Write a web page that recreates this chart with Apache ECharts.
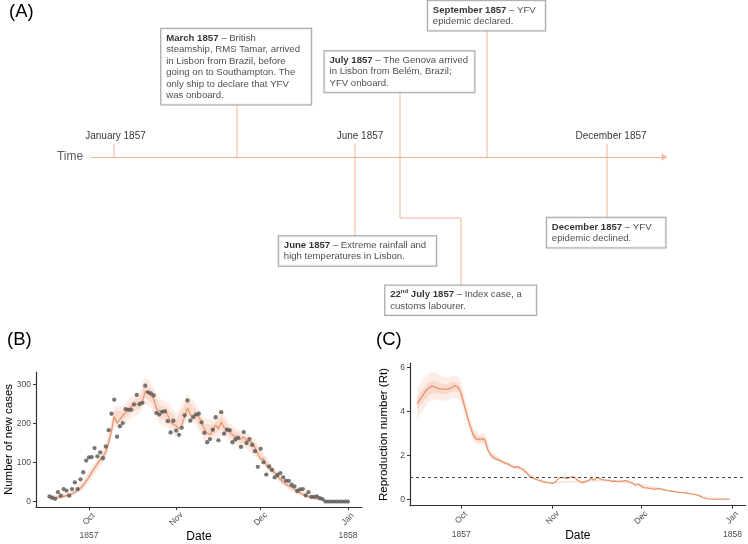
<!DOCTYPE html>
<html><head><meta charset="utf-8">
<script src="https://cdn.jsdelivr.net/npm/echarts@6/dist/echarts.min.js"></script>
<style>html,body{margin:0;padding:0;background:#fff}#c{width:748px;height:544px}</style>
</head><body><div id="c"></div>
<script>
// ---------- Panel A: timeline events ----------
const monthLabels = ['January 1857', 'June 1857', 'December 1857'];
const eventDates = ['{d|March 1857}', '{d|July 1857}', '{d|September 1857}', '{d|June 1857}', '{d|22}{sup|nd}{d| July 1857}', '{d|December 1857}'];
const eventTexts = [
  ' – British\nsteamship, RMS Tamar, arrived\nin Lisbon from Brazil, before\ngoing on to Southampton. The\nonly ship to declare that YFV\nwas onboard.',
  ' – The Genova arrived\nin Lisbon from Belém, Brazil;\nYFV onboard.',
  ' – YFV\nepidemic declared.',
  ' – Extreme rainfall and\nhigh temperatures in Lisbon.',
  ' – Index case, a\ncustoms labourer.',
  ' – YFV\nepidemic declined.'
];

// ---------- Panel B: daily cases (day 0 = 1 Oct 1857) ----------
const caseStartDay = -14;
const caseCounts = [13,10,7,24,15,32,28,15,32,49,32,57,75,105,
  113,114,137,116,126,111,141,183,225,261,
  166,193,201,237,235,235,249,273,250,253,
  297,280,277,272,227,223,230,231,206,177,
  207,182,171,189,221,259,207,216,223,225,
  203,176,152,160,184,216,157,229,174,184,
  183,152,159,163,140,178,150,160,145,129,
  89,135,101,69,90,81,62,68,73,62,
  53,53,43,39,27,31,32,16,24,12,
  12,13,9,6,0,0,0,0,0,0,
  0,0,0];
const fitStartDay = -14;
const fitCases = [8,9,10,11,12,13,15,17,20,24,28,34,42,52,
  62,75,86,97,107,116,127,150,180,218,
  200,210,220,228,236,243,248,250,245,255,
  283,280,272,263,238,232,230,235,222,204,
  198,194,186,196,217,240,222,219,221,218,
  203,185,175,171,182,196,186,204,190,184,
  178,171,167,163,160,166,156,154,152,138,
  121,108,110,92,84,80,73,65,57,50,
  44,40,37,32,27,22,18,15,12,10,
  9,7,6];
const ribB_days = [-14,-10,-6,-2,2,6,9,12,15,18,20,22,25,28,31,35,38,41,44,47,50,53,56,59,62,65,68,71,74,77,80,83];
const ribB_outLo = [2,5,12,30,70,110,190,195,215,225,250,240,200,190,165,210,195,155,155,170,155,140,135,115,95,68,45,30,18,9,4,2];
const ribB_outHi = [15,20,28,55,100,145,245,245,270,280,322,305,265,255,225,275,250,215,210,235,200,185,175,160,125,95,70,50,35,22,14,10];
const ribB_inLo = [5,8,16,36,78,118,203,207,229,237,266,256,216,205,180,226,208,170,168,186,166,152,145,127,103,75,51,35,22,12,6,4];
const ribB_inHi = [11,16,24,48,93,137,232,233,256,268,305,289,249,240,210,259,236,200,197,220,190,175,165,148,118,88,64,45,31,18,11,8];

// ---------- Panel C: reproduction number ----------
const rtStartDay = -15;
const rtValues = [4.37,4.55,4.75,4.95,5.08,5.16,5.12,5.06,5.03,5.02,5.01,5.04,5.12,5.18,5.1,
  4.8,4.3,3.8,3.35,2.95,2.76,2.73,2.76,2.72,2.25,
  2.02,1.88,1.82,1.78,1.7,1.64,1.6,1.52,1.46,1.49,
  1.43,1.36,1.22,1.08,0.98,0.93,0.88,0.84,0.78,0.76,
  0.75,0.73,0.8,0.97,1.0,0.98,0.95,1.0,1.03,0.93,
  0.82,0.76,0.8,0.85,0.95,0.88,1.0,0.93,0.9,0.88,
  0.86,0.82,0.83,0.82,0.82,0.84,0.85,0.8,0.75,0.63,
  0.7,0.6,0.52,0.52,0.5,0.47,0.46,0.5,0.46,0.43,
  0.4,0.38,0.36,0.34,0.32,0.31,0.29,0.27,0.25,0.23,
  0.2,0.15,0.09,0.04,0.02,0.01,0.01,0.01,0.01,0.01,
  0.01,0.01];
const ribC_days = [-15,-13,-11,-9,-7,-5,-3,-1,0,2,4,6,8,10,13,17,21,25,30,40,50,60,70,80,91];
const ribC_outLo = [3.62,4.05,4.45,4.55,4.5,4.5,4.62,4.6,4.35,3.45,2.62,2.48,2.45,1.88,1.68,1.43,1.3,0.88,0.72,0.78,0.82,0.65,0.38,0.18,0.0];
const ribC_outHi = [5.05,5.45,5.75,5.8,5.62,5.55,5.62,5.6,5.3,4.2,3.25,3.0,3.02,2.18,1.9,1.6,1.44,0.98,0.8,0.86,0.9,0.74,0.43,0.22,0.02];
const ribC_inLo = [4.1,4.4,4.75,4.85,4.8,4.78,4.9,4.9,4.6,3.65,2.78,2.6,2.58,1.95,1.74,1.48,1.34,0.91,0.74,0.8,0.84,0.67,0.39,0.19,0.005];
const ribC_inHi = [4.65,5.05,5.35,5.4,5.28,5.25,5.35,5.32,5.02,3.95,3.1,2.86,2.88,2.1,1.84,1.55,1.4,0.95,0.78,0.84,0.88,0.72,0.42,0.21,0.015];
const rtThreshold = 1;

// ---------- Axis ticks ----------
const monthTicks = [0, 31, 61, 92];
const monthNames = ['Oct', 'Nov', 'Dec', 'Jan'];
const yearTicks = [0, 92];
const yearNames = ['1857', '1858'];
const caseTicks = [0, 100, 200, 300];
const rtTicks = [0, 2, 4, 6];

// ---------- Layout (panel A schematic frame, not data) ----------
const L = {
  axisY: 157, arrowFrom: 91, arrowTo: 667,
  monthLabelPos: [[115.5,136],[360,136],[611,136]],
  connectors: [
    [[114,144],[114,157]],
    [[355,144],[355,237]],
    [[607,144],[607,218]],
    [[237,105],[237,157]],
    [[400,92],[400,218],[461,218],[461,286]],
    [[487,30],[487,157]]
  ],
  boxes: [ // left, top, width
    [161.7, 29.3, 150], [325, 51.7, 150], [428.3, 1.3, 117.4],
    [279.3, 236.7, 157.4], [385.7, 286, 151], [547.3, 218.3, 118.7]
  ],
  timeLabel: [70, 157]
};

const ORANGE = '#E8936B';
const TL = '#F2B396';
const FONT = 'Liberation Sans, Arial, Helvetica, sans-serif';

const chart = echarts.init(document.getElementById('c'), null, {renderer: 'canvas'});

function seq(start, n) { const a = []; for (let i = 0; i < n; i++) a.push(start + i); return a; }
const caseDays = seq(caseStartDay, caseCounts.length);
const fitDays = seq(fitStartDay, fitCases.length);
const rtDays = seq(rtStartDay, rtValues.length);

function ribbon(xi, yi, days, lo, hi, color, z) {
  return {
    type: 'custom', xAxisIndex: xi, yAxisIndex: yi, z: z, silent: true,
    data: days.map((d, i) => [d, lo[i], hi[i]]),
    encode: {x: 0, y: [1, 2]},
    renderItem: function (params, api) {
      if (params.dataIndex !== 0) return null;
      const pts = [];
      for (let i = 0; i < days.length; i++) pts.push(api.coord([days[i], hi[i]]));
      for (let i = days.length - 1; i >= 0; i--) pts.push(api.coord([days[i], lo[i]]));
      return {type: 'polygon', shape: {points: pts}, style: {fill: color}};
    }
  };
}

const axisCol = '#333';
const tickLabelStyle = {color: '#4d4d4d', fontSize: 8.5, fontFamily: FONT};

function mainX(grid, min, max) {
  return {
    type: 'value', gridIndex: grid, min: min, max: max,
    axisLine: {show: true, onZero: false, lineStyle: {color: axisCol, width: 1.2}},
    axisTick: {show: true, length: 3, lineStyle: {color: axisCol}, customValues: monthTicks},
    splitLine: {show: false},
    axisLabel: Object.assign({customValues: monthTicks, rotate: 45, align: 'center', verticalAlign: 'middle', margin: 12,
      formatter: v => monthNames[monthTicks.indexOf(v)]}, tickLabelStyle)
  };
}
function yearX(grid, min, max) {
  return {
    type: 'value', gridIndex: grid, min: min, max: max, position: 'bottom',
    axisLine: {show: false, onZero: false}, axisTick: {show: false}, splitLine: {show: false},
    axisLabel: Object.assign({customValues: yearTicks, margin: 24, formatter: v => yearNames[yearTicks.indexOf(v)]}, tickLabelStyle),
    name: 'Date', nameLocation: 'middle', nameGap: 24, nameMoveOverlap: false,
    nameTextStyle: {fontSize: 12, color: '#000', fontFamily: FONT, verticalAlign: 'top'}
  };
}
function mainY(grid, min, max, ticks, name, gap) {
  return {
    type: 'value', gridIndex: grid, min: min, max: max,
    axisLine: {show: true, onZero: false, lineStyle: {color: axisCol, width: 1.2}},
    axisTick: {show: true, length: 3, lineStyle: {color: axisCol}, customValues: ticks},
    splitLine: {show: false},
    axisLabel: Object.assign({customValues: ticks, margin: 5}, tickLabelStyle),
    name: name, nameLocation: 'middle', nameGap: gap, nameMoveOverlap: false,
    nameTextStyle: {fontSize: 11.5, color: '#000', fontFamily: FONT}
  };
}

const richStyles = {
  d: {fontSize: 9.6, lineHeight: 11.5, color: '#000', fontWeight: 'bold', fontFamily: FONT},
  sup: {fontSize: 6, lineHeight: 11.5, color: '#000', fontWeight: 'bold', fontFamily: FONT, verticalAlign: 'top', padding: [0, 0, 4, 0]}
};

const boxSeries = {
  type: 'scatter', xAxisIndex: 0, yAxisIndex: 0, symbolSize: 1, silent: true,
  itemStyle: {color: 'rgba(0,0,0,0)'},
  data: L.boxes.map((b, i) => ({
    value: [b[0], b[1]],
    label: {
      show: true, position: [0, 0], align: 'left', verticalAlign: 'top',
      formatter: eventDates[i] + eventTexts[i],
      width: b[2] - 10, padding: [3.3, 5, 3.3, 5],
      backgroundColor: '#fff', borderColor: '#8a8a8a', borderWidth: 1,
      fontSize: 9.6, lineHeight: 11.5, color: '#222', fontFamily: FONT,
      rich: richStyles
    }
  })),
  z: 5
};

const option = {
  animation: false,
  backgroundColor: '#fff',
  textStyle: {fontFamily: FONT},
  title: [
    {text: '(A)', left: 9, top: 2, textStyle: {fontSize: 18.5, fontWeight: 'normal', color: '#000', fontFamily: FONT}, padding: 0},
    {text: '(B)', left: 7, top: 330, textStyle: {fontSize: 18.5, fontWeight: 'normal', color: '#000', fontFamily: FONT}, padding: 0},
    {text: '(C)', left: 376, top: 330, textStyle: {fontSize: 18.5, fontWeight: 'normal', color: '#000', fontFamily: FONT}, padding: 0}
  ],
  grid: [
    {left: 0, top: 0, width: 748, height: 320, show: false, outerBoundsMode: 'none', containLabel: false},
    {left: 36, top: 372, width: 326, height: 135, show: false, outerBoundsMode: 'none', containLabel: false},
    {left: 410, top: 363.3, width: 335.7, height: 142.4, show: false, outerBoundsMode: 'none', containLabel: false}
  ],
  xAxis: [
    {type: 'value', gridIndex: 0, min: 0, max: 748, show: false},
    mainX(1, -18.8, 97),
    yearX(1, -18.8, 97),
    mainX(2, -17.4, 96.5),
    yearX(2, -17.4, 96.5)
  ],
  yAxis: [
    {type: 'value', gridIndex: 0, min: 0, max: 320, inverse: true, show: false},
    mainY(1, -14, 332, caseTicks, 'Number of new cases', 21),
    mainY(2, -0.29, 6.2, rtTicks, 'Reproduction number (Rt)', 20)
  ],
  series: [
    // Panel A
    {
      type: 'lines', coordinateSystem: 'cartesian2d', xAxisIndex: 0, yAxisIndex: 0, polyline: true, silent: true,
      lineStyle: {color: TL, width: 1, opacity: 1},
      data: L.connectors.map(c => ({coords: c}))
    },
    {
      type: 'lines', coordinateSystem: 'cartesian2d', xAxisIndex: 0, yAxisIndex: 0, silent: true,
      symbol: ['none', 'arrow'], symbolSize: 6,
      lineStyle: {color: TL, width: 1, opacity: 1},
      data: [{coords: [[L.arrowFrom, L.axisY], [L.arrowTo, L.axisY]]}]
    },
    {
      type: 'scatter', xAxisIndex: 0, yAxisIndex: 0, symbolSize: 1, silent: true, itemStyle: {color: 'rgba(0,0,0,0)'},
      data: L.monthLabelPos.map((p, i) => ({value: p, label: {show: true, position: 'inside', formatter: monthLabels[i], fontSize: 10, color: '#000', fontFamily: FONT}}))
    },
    {
      type: 'scatter', xAxisIndex: 0, yAxisIndex: 0, symbolSize: 1, silent: true, itemStyle: {color: 'rgba(0,0,0,0)'},
      data: [{value: L.timeLabel, label: {show: true, position: 'inside', formatter: 'Time', fontSize: 12, color: '#333', fontFamily: FONT}}]
    },
    boxSeries,
    // Panel B
    ribbon(1, 1, ribB_days, ribB_outLo, ribB_outHi, 'rgba(236,150,110,0.17)', 1),
    ribbon(1, 1, ribB_days, ribB_inLo, ribB_inHi, 'rgba(236,150,110,0.2)', 2),
    {
      type: 'line', xAxisIndex: 1, yAxisIndex: 1, data: fitDays.map((d, i) => [d, fitCases[i]]),
      showSymbol: false, lineStyle: {color: ORANGE, width: 1.2}, z: 3, silent: true
    },
    {
      type: 'scatter', xAxisIndex: 1, yAxisIndex: 1, data: caseDays.map((d, i) => [d, caseCounts[i]]),
      symbolSize: 4.3, itemStyle: {color: '#555'}, z: 4, silent: true
    },
    // Panel C
    ribbon(3, 2, ribC_days, ribC_outLo, ribC_outHi, 'rgba(236,150,110,0.17)', 1),
    ribbon(3, 2, ribC_days, ribC_inLo, ribC_inHi, 'rgba(236,150,110,0.2)', 2),
    {
      type: 'line', xAxisIndex: 3, yAxisIndex: 2, data: rtDays.map((d, i) => [d, rtValues[i]]),
      showSymbol: false, lineStyle: {color: ORANGE, width: 1.3}, z: 3, silent: true,
      markLine: {silent: true, symbol: 'none', label: {show: false},
        lineStyle: {type: [3, 3], color: '#333', width: 0.9},
        data: [{yAxis: rtThreshold}]}
    }
  ]
};
chart.setOption(option);
</script>
</body></html>
